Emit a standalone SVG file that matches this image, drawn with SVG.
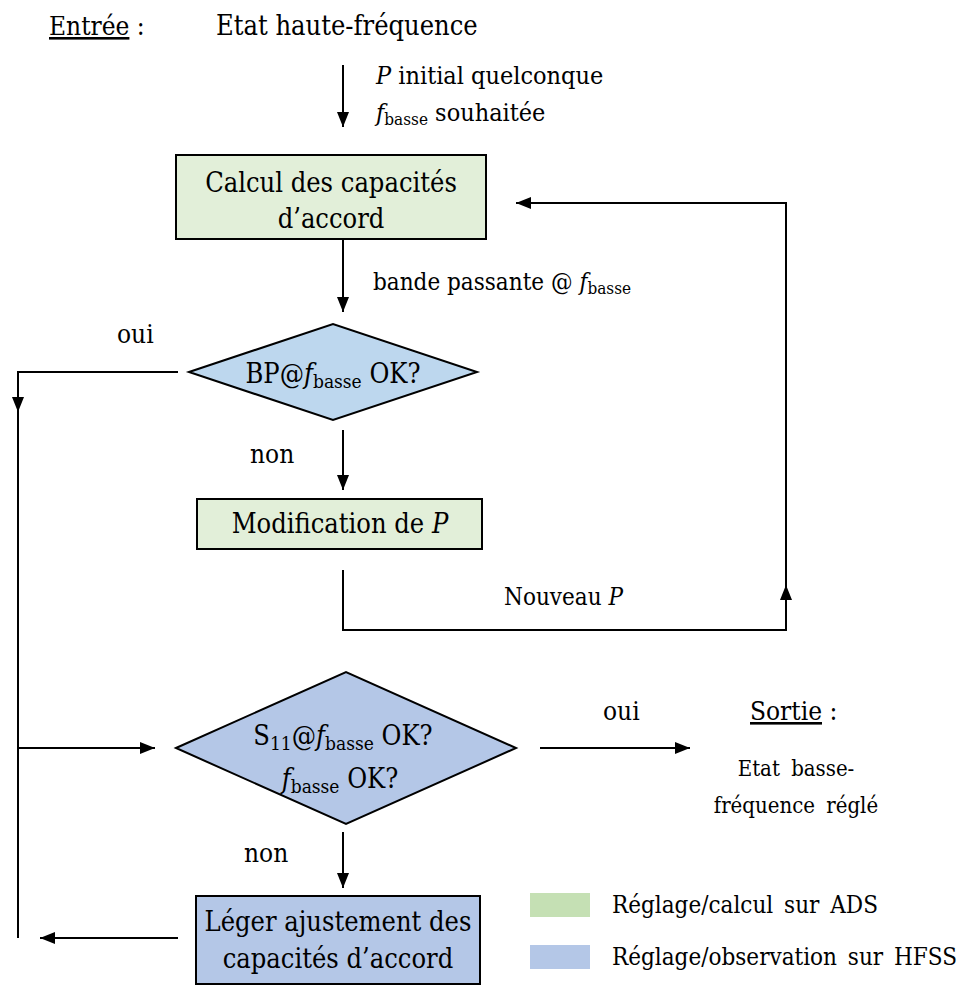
<svg xmlns="http://www.w3.org/2000/svg" width="966" height="985" viewBox="0 0 966 985">
<defs>
<marker id="ah" viewBox="0 0 15 12" refX="15" refY="6" markerWidth="15" markerHeight="12" markerUnits="userSpaceOnUse" orient="auto">
<path d="M0,0 L15,6 L0,12 Z" fill="#000"/>
</marker>
<style>
text{font-family:"DejaVu Serif Condensed","DejaVu Serif","Liberation Serif",serif;font-stretch:condensed;fill:#000;}
.t27{font-size:27px;}
.t26{font-size:26px;}
.t25{font-size:25px;}
.t24{font-size:24px;}
.t22{font-size:22px;}
.sub{font-size:17px;}
.sub2{font-size:19px;}
.it{font-style:italic;}
.c{text-anchor:middle;}
.box{stroke:#000;stroke-width:2;}
.green{fill:#e2efd9;}
.lblue{fill:#bdd7ee;}
.blue{fill:#b4c7e7;}
.conn path,.conn line{fill:none;stroke:#000;stroke-width:2;}
</style>
</defs>
<rect width="966" height="985" fill="#fff"/>

<g id="entree">
<text class="t26" x="49" y="35"><tspan text-decoration="underline">Entrée</tspan> :</text>
<text class="t27" x="216" y="35">Etat haute-fréquence</text>
</g>
<g id="init-labels">
<text class="t25" x="376" y="84"><tspan class="it">P</tspan> initial quelconque</text>
<text class="t25" x="376" y="121"><tspan class="it">f</tspan><tspan class="sub" dy="4">basse</tspan><tspan dy="-4"> souhaitée</tspan></text>
</g>

<g id="calcul">
<rect class="box green" x="176" y="155" width="310" height="84"/>
<text class="t27 c" x="331" y="192">Calcul des capacités</text>
<text class="t27 c" x="331" y="228">d’accord</text>
</g>

<g id="bp-label">
<text class="t24" x="373" y="290">bande passante @ <tspan class="it">f</tspan><tspan class="sub" dy="4">basse</tspan></text>
</g>

<g id="bp-ok">
<polygon class="box lblue" points="189,372 333,324 477,372 333,420"/>
<text class="t27 c" x="333" y="383">BP@<tspan class="it">f</tspan><tspan class="sub2" dy="5">basse</tspan><tspan dy="-5"> OK?</tspan></text>
</g>

<g id="labels1">
<text class="t26" x="117" y="343">oui</text>
<text class="t26" x="250" y="463">non</text>
<text class="t24" x="504" y="605">Nouveau <tspan class="it">P</tspan></text>
</g>

<g id="modif">
<rect class="box green" x="197" y="499" width="285" height="50"/>
<text class="t27 c" x="340" y="533">Modification de <tspan class="it">P</tspan></text>
</g>

<g id="s11-ok">
<polygon class="box blue" points="176,748 346,672 516,748 346,824"/>
<text class="t27 c" x="343" y="745">S<tspan class="sub2" dy="5">11</tspan><tspan dy="-5">@</tspan><tspan class="it">f</tspan><tspan class="sub2" dy="5">basse</tspan><tspan dy="-5"> OK?</tspan></text>
<text class="t27 c" x="340" y="788"><tspan class="it">f</tspan><tspan class="sub2" dy="5">basse</tspan><tspan dy="-5"> OK?</tspan></text>
</g>

<g id="sortie">
<text class="t26" x="603" y="720">oui</text>
<text class="t26" x="750" y="720"><tspan text-decoration="underline">Sortie</tspan> :</text>
<text class="t22 c" x="796" y="776" word-spacing="5">Etat basse-</text>
<text class="t22 c" x="796" y="813" word-spacing="5">fréquence réglé</text>
<text class="t26" x="244" y="862">non</text>
</g>

<g id="ajustement">
<rect class="box blue" x="196" y="896" width="284" height="88"/>
<text class="t27 c" x="338" y="931">Léger ajustement des</text>
<text class="t27 c" x="338" y="968">capacités d’accord</text>
</g>

<g id="legend">
<rect x="530" y="893" width="60" height="24" fill="#c5e0b4"/>
<text class="t24" x="612" y="913" word-spacing="4">Réglage/calcul sur ADS</text>
<rect x="530" y="945" width="60" height="24" fill="#b4c7e7"/>
<text class="t24" x="612" y="965" word-spacing="4">Réglage/observation sur HFSS</text>
</g>

<g id="connectors" class="conn">
<line x1="343" y1="65" x2="343" y2="127" marker-end="url(#ah)"/>
<line x1="343" y1="239" x2="343" y2="312" marker-end="url(#ah)"/>
<line x1="343" y1="430" x2="343" y2="490" marker-end="url(#ah)"/>
<path d="M343,570 V630 H786 V585" marker-end="url(#ah)"/>
<path d="M786,590 V203 H516" marker-end="url(#ah)"/>
<path d="M178,372 H18 V412" marker-end="url(#ah)"/>
<path d="M18,405 V938"/>
<path d="M18,748 H155" marker-end="url(#ah)"/>
<path d="M178,938 H40" marker-end="url(#ah)"/>
<line x1="540" y1="748" x2="690" y2="748" marker-end="url(#ah)"/>
<line x1="343" y1="832" x2="343" y2="888" marker-end="url(#ah)"/>
</g>
</svg>
